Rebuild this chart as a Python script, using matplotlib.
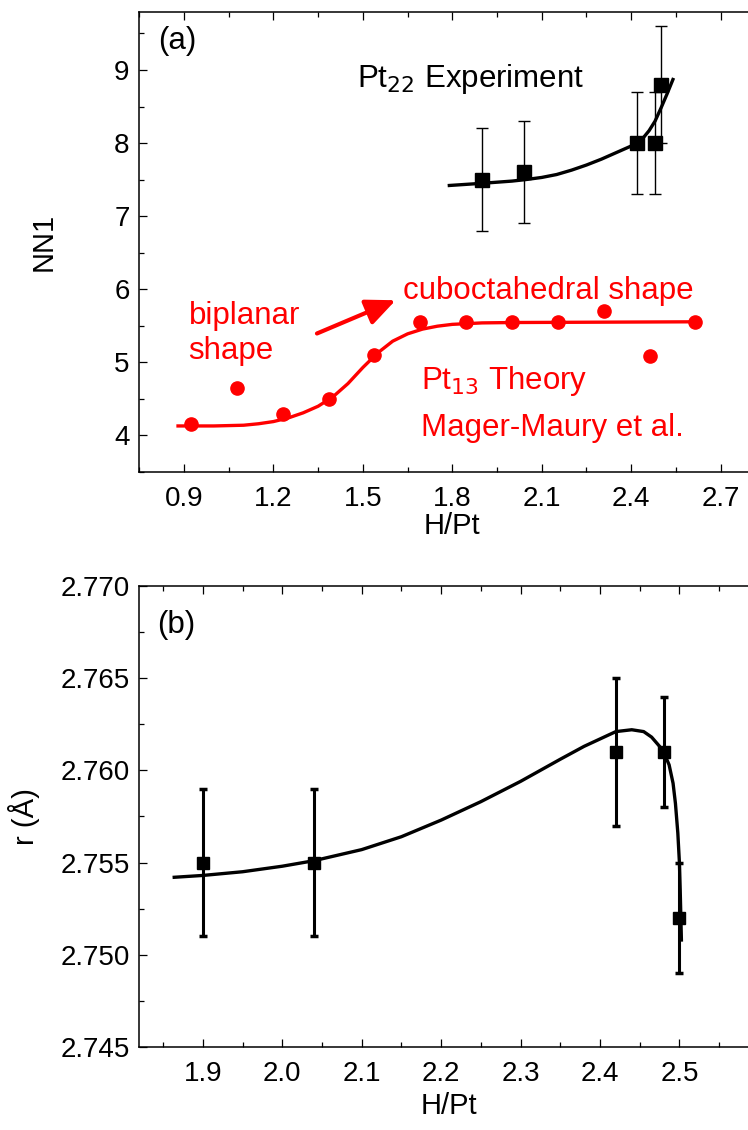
import numpy as np
import matplotlib
matplotlib.use("Agg")
import matplotlib.pyplot as plt
from matplotlib.ticker import MultipleLocator, FixedLocator, FormatStrFormatter

plt.rcParams['font.family'] = ['Liberation Sans', 'DejaVu Sans']

# (a) Pt22 experiment, NN1 coordination number
exp_x = [1.90, 2.04, 2.42, 2.48, 2.50]
exp_nn = [7.5, 7.6, 8.0, 8.0, 8.8]
exp_nn_err = [0.7, 0.7, 0.7, 0.7, 0.8]
exp_fit_x = [1.79, 1.90, 2.00, 2.045, 2.10, 2.15, 2.20, 2.25, 2.30, 2.35, 2.40,
             2.42, 2.44, 2.46, 2.48, 2.50, 2.52, 2.54]
exp_fit_y = [7.42, 7.45, 7.48, 7.50, 7.53, 7.57, 7.63, 7.70, 7.78, 7.87, 7.96,
             8.00, 8.07, 8.17, 8.30, 8.48, 8.67, 8.87]

# (a) Pt13 theory (Mager-Maury et al.)
th_x = [0.923, 1.077, 1.231, 1.385, 1.538, 1.692, 1.846, 2.0, 2.154, 2.308, 2.462, 2.615]
th_nn = [4.15, 4.65, 4.3, 4.5, 5.1, 5.55, 5.55, 5.55, 5.55, 5.7, 5.09, 5.55]
th_fit_x = [0.88, 1.0, 1.1, 1.15, 1.2, 1.25, 1.3, 1.35, 1.4, 1.45, 1.5, 1.55,
            1.6, 1.65, 1.7, 1.75, 1.8, 1.9, 2.0, 2.3, 2.614]
th_fit_y = [4.13, 4.13, 4.14, 4.16, 4.19, 4.24, 4.31, 4.40, 4.53, 4.71, 4.93, 5.13,
            5.29, 5.39, 5.455, 5.495, 5.52, 5.54, 5.545, 5.55, 5.555]

# (b) Pt-Pt distance
r_val = [2.755, 2.755, 2.761, 2.761, 2.752]
r_err = [0.004, 0.004, 0.004, 0.003, 0.003]
r_fit_x = [1.864, 1.90, 1.95, 2.00, 2.04, 2.10, 2.15, 2.20, 2.25, 2.30, 2.35, 2.38,
           2.40, 2.42, 2.44, 2.455, 2.465, 2.475, 2.48, 2.487, 2.492, 2.495, 2.498,
           2.500, 2.501, 2.5025]
r_fit_y = [2.7542, 2.7543, 2.7545, 2.7548, 2.7551, 2.7557, 2.7564, 2.7573, 2.7583,
           2.7594, 2.7606, 2.7613, 2.7617, 2.7621, 2.7622, 2.7621, 2.7618, 2.7613,
           2.7610, 2.7603, 2.7593, 2.7582, 2.7566, 2.7550, 2.7535, 2.7508]

xticks_a = [0.9, 1.2, 1.5, 1.8, 2.1, 2.4, 2.7]
xticks_b = [1.9, 2.0, 2.1, 2.2, 2.3, 2.4, 2.5]

RED = '#ff0000'
TICK_FS = 20
LABEL_FS = 21
TEXT_FS = 22.5


def style_axes(ax):
    ax.tick_params(which='both', direction='in', top=True, right=True,
                   labelsize=TICK_FS, width=0.9)
    ax.tick_params(axis='x', pad=10)
    ax.tick_params(axis='y', pad=7)
    ax.tick_params(which='major', length=6)
    ax.tick_params(which='minor', length=3.5)
    for s in ax.spines.values():
        s.set_linewidth(1.1)


fig = plt.figure(figsize=(7.48, 11.3), dpi=100)

# ---- panel (a)
ax1 = fig.add_axes([0.1862, 0.5823, 0.837, 0.4075])
ax1.errorbar(exp_x, exp_nn, yerr=exp_nn_err, fmt='s', color='black', ms=9.5,
             elinewidth=1, capsize=4, capthick=1)
ax1.plot(exp_fit_x, exp_fit_y, color='black', lw=2.4)
ax1.plot(th_fit_x, th_fit_y, color=RED, lw=2.4)
ax1.plot(th_x, th_nn, 'o', color=RED, ms=9.5)

ax1.annotate('', xy=(1.61, 5.85), xytext=(1.346, 5.395),
             arrowprops=dict(arrowstyle='-|>,head_length=0.9,head_width=0.4',
                             color=RED, lw=3, mutation_scale=20, shrinkA=0, shrinkB=0))

ax1.text(0.812, 9.40, '(a)', fontsize=TEXT_FS, va='center', ha='left')
ax1.text(1.481, 8.77, 'Pt$_{22}$ Experiment', fontsize=TEXT_FS, va='baseline')
ax1.text(0.915, 5.52, 'biplanar', fontsize=TEXT_FS, color=RED, va='baseline')
ax1.text(0.915, 5.05, 'shape', fontsize=TEXT_FS, color=RED, va='baseline')
ax1.text(1.634, 5.87, 'cuboctahedral shape', fontsize=TEXT_FS, color=RED, va='baseline')
ax1.text(1.696, 4.64, 'Pt$_{13}$ Theory', fontsize=TEXT_FS, color=RED, va='baseline')
ax1.text(1.696, 3.99, 'Mager-Maury et al.', fontsize=TEXT_FS, color=RED, va='baseline')

ax1.set_xlim(0.75, 2.85)
ax1.set_ylim(3.5, 9.8)
ax1.xaxis.set_major_locator(FixedLocator(xticks_a))
ax1.xaxis.set_minor_locator(MultipleLocator(0.15))
ax1.yaxis.set_major_locator(MultipleLocator(1))
ax1.yaxis.set_minor_locator(MultipleLocator(0.5))
ax1.xaxis.set_major_formatter(FormatStrFormatter('%.1f'))
ax1.set_xlabel('H/Pt', fontsize=LABEL_FS, labelpad=0)
ax1.set_ylabel('NN1', fontsize=LABEL_FS)
ax1.yaxis.set_label_coords(-0.13, 0.5)
style_axes(ax1)

# ---- panel (b)
ax2 = fig.add_axes([0.1862, 0.0735, 0.8283, 0.408])
ax2.errorbar(exp_x, r_val, yerr=r_err, fmt='s', color='black', ms=8.5,
             elinewidth=2.2, capsize=3.2, capthick=2.5)
ax2.plot(r_fit_x, r_fit_y, color='black', lw=2.4)
ax2.text(1.843, 2.7679, '(b)', fontsize=TEXT_FS, va='center', ha='left')

ax2.set_xlim(1.82, 2.6)
ax2.set_ylim(2.745, 2.770)
ax2.xaxis.set_major_locator(FixedLocator(xticks_b))
ax2.xaxis.set_minor_locator(MultipleLocator(0.05))
ax2.yaxis.set_major_locator(MultipleLocator(0.005))
ax2.yaxis.set_minor_locator(MultipleLocator(0.0025))
ax2.xaxis.set_major_formatter(FormatStrFormatter('%.1f'))
ax2.yaxis.set_major_formatter(FormatStrFormatter('%.3f'))
ax2.set_xlabel('H/Pt', fontsize=LABEL_FS, labelpad=4)
ax2.set_ylabel('r (Å)', fontsize=LABEL_FS)
ax2.yaxis.set_label_coords(-0.16, 0.5)
style_axes(ax2)

fig.savefig('out.png', dpi=100)
